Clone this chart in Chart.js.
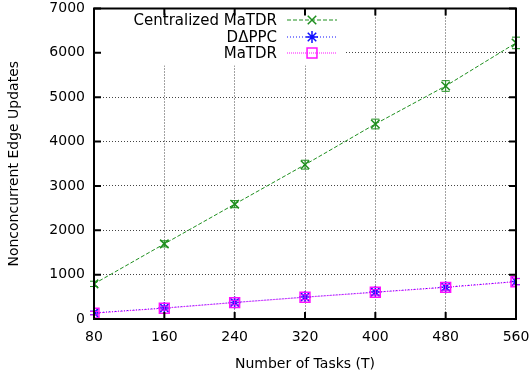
<!DOCTYPE html>
<html>
<head>
<meta charset="utf-8">
<script src="https://cdn.jsdelivr.net/npm/chart.js@4.4.0/dist/chart.umd.min.js"></script>
<style>
  html, body { margin: 0; padding: 0; background: #fff; }
  #wrap { width: 531px; height: 377px; }
</style>
</head>
<body>
<div id="wrap"><canvas id="c" width="531" height="377"></canvas></div>
<script>
// tasks on the x axis
const tasks = [80, 160, 240, 320, 400, 480, 560];
const centralized = [792, 1694, 2589, 3479, 4396, 5253, 6224];
const dappc = [138, 248, 374, 494, 606, 718, 845];
const matdr = [132, 244, 370, 490, 602, 714, 840];
// small error bars
const centralizedErr = [60, 70, 80, 100, 110, 120, 130];
const dappcErr = [40, 45, 50, 55, 60, 65, 70];
const matdrErr = [40, 45, 50, 55, 60, 65, 70];

const seriesNames = ['Centralized MaTDR', 'D\u0394PPC', 'MaTDR'];
const font = '"DejaVu Sans", sans-serif';

const green = '#1f8f1f';
const blue = '#1010ff';
const magenta = '#ff10ff';

function points(ys) {
  return tasks.map((t, i) => ({ x: t, y: ys[i] }));
}

const errs = [centralizedErr, dappcErr, matdrErr];

const gnuplotLook = {
  id: 'gnuplotLook',
  beforeDatasetsDraw(chart) {
    const ctx = chart.ctx;
    const a = chart.chartArea;
    // legend box covers the grid
    ctx.save();
    ctx.fillStyle = '#fff';
    ctx.fillRect(a.left + 2, a.top + 2, 250, 55);
    const ds = chart.data.datasets;
    const rows = [20, 37, 53];
    ctx.font = '15px ' + font;
    ctx.textAlign = 'right';
    ctx.textBaseline = 'middle';
    ds.forEach((d, i) => {
      const y = rows[i];
      ctx.fillStyle = '#000';
      ctx.fillText(seriesNames[i], 277, y + 1);
      ctx.strokeStyle = d.borderColor;
      ctx.lineWidth = 1;
      ctx.setLineDash(d.borderDash);
      ctx.beginPath();
      ctx.moveTo(287, y);
      ctx.lineTo(337, y);
      ctx.stroke();
      ctx.setLineDash([]);
      ctx.fillStyle = d.pointBackgroundColor;
      ctx.strokeStyle = d.pointBorderColor;
      ctx.lineWidth = d.pointBorderWidth;
      Chart.helpers.drawPoint(ctx, {
        pointStyle: d.pointStyle, radius: d.pointRadius, borderWidth: d.pointBorderWidth
      }, 312, y);
    });
    ctx.restore();
  },
  afterDatasetsDraw(chart) {
    const ctx = chart.ctx;
    const xs = chart.scales.x, ys = chart.scales.y;
    ctx.save();
    chart.data.datasets.forEach((d, i) => {
      ctx.strokeStyle = d.borderColor;
      ctx.lineWidth = 1;
      d.data.forEach((p, j) => {
        const px = xs.getPixelForValue(p.x);
        const top = ys.getPixelForValue(p.y + errs[i][j]);
        const bot = ys.getPixelForValue(p.y - errs[i][j]);
        ctx.beginPath();
        ctx.moveTo(px, top); ctx.lineTo(px, bot);
        ctx.moveTo(px - 4, top); ctx.lineTo(px + 4, top);
        ctx.moveTo(px - 4, bot); ctx.lineTo(px + 4, bot);
        ctx.stroke();
      });
    });
    ctx.restore();
  },
  afterDraw(chart) {
    const ctx = chart.ctx;
    const a = chart.chartArea;
    const xs = chart.scales.x, ys = chart.scales.y;
    ctx.save();
    ctx.strokeStyle = '#000';
    ctx.lineWidth = 2;
    ctx.strokeRect(a.left, a.top, a.right - a.left, a.bottom - a.top);
    ctx.beginPath();
    xs.ticks.forEach(t => {
      const px = xs.getPixelForValue(t.value);
      ctx.moveTo(px, a.bottom); ctx.lineTo(px, a.bottom - 7);
      ctx.moveTo(px, a.top); ctx.lineTo(px, a.top + 7);
    });
    ys.ticks.forEach(t => {
      const py = ys.getPixelForValue(t.value);
      ctx.moveTo(a.left, py); ctx.lineTo(a.left + 7, py);
      ctx.moveTo(a.right, py); ctx.lineTo(a.right - 7, py);
    });
    ctx.stroke();
    ctx.restore();
  }
};

new Chart(document.getElementById('c'), {
  type: 'line',
  data: {
    datasets: [
      {
        label: seriesNames[0], data: points(centralized), order: 3,
        borderColor: green, borderWidth: 1, borderDash: [4, 2],
        pointStyle: 'crossRot', pointRadius: 6, pointBorderWidth: 1.5,
        pointBorderColor: green, pointBackgroundColor: green
      },
      {
        label: seriesNames[1], data: points(dappc), order: 2,
        borderColor: blue, borderWidth: 1, borderDash: [1, 2],
        pointStyle: 'star', pointRadius: 6, pointBorderWidth: 1.5,
        pointBorderColor: blue, pointBackgroundColor: blue
      },
      {
        label: seriesNames[2], data: points(matdr), order: 1,
        borderColor: magenta, borderWidth: 1, borderDash: [1, 1],
        pointStyle: 'rect', pointRadius: 7, pointBorderWidth: 1.5,
        pointBorderColor: magenta, pointBackgroundColor: 'rgba(0,0,0,0)'
      }
    ]
  },
  options: {
    responsive: false,
    animation: false,
    layout: { padding: { top: 6, right: 15, left: 0, bottom: 0 } },
    plugins: { legend: { display: false }, tooltip: { enabled: false } },
    scales: {
      x: {
        type: 'linear', min: 80, max: 560,
        afterFit(s) { s.height = 58; s.paddingLeft = 0; s.paddingRight = 0; },
        afterBuildTicks(s) { s.ticks = tasks.map(v => ({ value: v })); },
        grid: { color: '#444', lineWidth: 1, drawTicks: false },
        border: { display: false, dash: [1, 2] },
        ticks: { color: '#000', font: { family: font, size: 14 }, padding: 10, maxRotation: 0 },
        title: { display: true, text: 'Number of Tasks (T)', color: '#000', font: { family: font, size: 14 }, padding: { top: 4 } }
      },
      y: {
        min: 0, max: 7000,
        afterFit(s) { s.width = 94; s.paddingTop = 0; s.paddingBottom = 0; },
        grid: { color: '#444', lineWidth: 1, drawTicks: false },
        border: { display: false, dash: [1, 2] },
        ticks: { stepSize: 1000, color: '#000', font: { family: font, size: 14 }, padding: 9, callback: v => String(v) },
        title: { display: true, text: 'Nonconcurrent Edge Updates', color: '#000', font: { family: font, size: 14 }, padding: { top: 6, bottom: 0 } }
      }
    }
  },
  plugins: [gnuplotLook]
});
</script>
</body>
</html>
